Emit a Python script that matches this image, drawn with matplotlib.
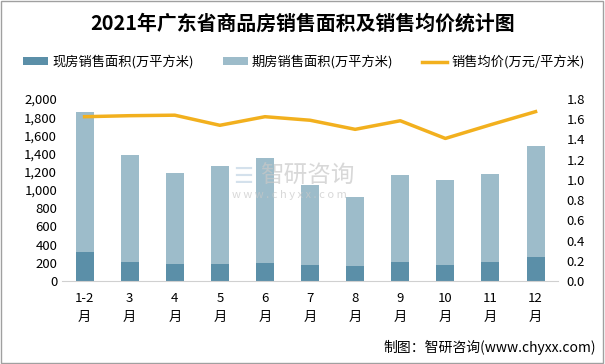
import matplotlib.pyplot as plt
import numpy as np
from matplotlib.patches import Rectangle

plt.rcParams['font.family'] = ['Noto Sans CJK SC', 'DejaVu Sans']

months = ["1-2\n月", "3\n月", "4\n月", "5\n月", "6\n月", "7\n月", "8\n月", "9\n月", "10\n月", "11\n月", "12\n月"]
spot_area = [317, 210, 188, 188, 199, 177, 166, 210, 177, 210, 265]
total_area = [1853, 1389, 1190, 1267, 1356, 1050, 928, 1168, 1105, 1179, 1488]
futures_area = [t - s for t, s in zip(total_area, spot_area)]
avg_price = [1.625, 1.635, 1.64, 1.54, 1.625, 1.59, 1.50, 1.585, 1.41, 1.545, 1.675]

c_spot = "#5b8fa8"
c_fut = "#9dbcca"
c_line = "#f2b01e"

fig = plt.figure(figsize=(6.05, 3.64), dpi=100)
ax = fig.add_axes([0.1025, 0.228, 0.82, 0.50])
x = np.arange(len(months))

b1 = ax.bar(x, spot_area, width=0.4, color=c_spot, label="现房销售面积(万平方米)")
b2 = ax.bar(x, futures_area, width=0.4, bottom=spot_area, color=c_fut, label="期房销售面积(万平方米)")
ax.set_ylim(0, 2000)
ax.set_yticks(np.arange(0, 2001, 200))
ax.set_yticklabels([f"{v:,}" for v in range(0, 2001, 200)])
ax.set_xlim(-0.5, len(months) - 0.5)
ax.set_xticks(x)
ax.set_xticklabels(months, linespacing=1.6)
for s in ["top", "left", "right"]:
    ax.spines[s].set_visible(False)
ax.spines["bottom"].set_color("#d0d0d0")
ax.tick_params(axis="both", length=0, labelsize=9.5)
ax.tick_params(axis="x", pad=8)

ax2 = ax.twinx()
l1, = ax2.plot(x, avg_price, color=c_line, lw=2.5, label="销售均价(万元/平方米)")
ax2.set_ylim(0, 1.8)
ax2.set_yticks(np.arange(0, 1.81, 0.2))
ax2.set_yticklabels([f"{v:.1f}" for v in np.arange(0, 1.81, 0.2)])
for s in ["top", "left", "right", "bottom"]:
    ax2.spines[s].set_visible(False)
ax2.tick_params(axis="y", length=0, labelsize=9.5, pad=6)

# watermark
fig.text(0.385, 0.515, "\u2630", fontsize=16, color="#b8cde0", alpha=0.6, ha="left", va="center")
fig.text(0.43, 0.515, "智研咨询", fontsize=17, color="#c8c8c8", alpha=0.7, ha="left", va="center")
fig.text(0.383, 0.465, "w w w . c h y x x . c o m", fontsize=8, color="#c8c8c8", alpha=0.7, ha="left", va="center")

fig.suptitle("2021年广东省商品房销售面积及销售均价统计图", y=0.965, fontsize=14.3, fontweight="bold")
fig.legend(handles=[b1, b2, l1], loc="center", bbox_to_anchor=(0.502, 0.83), ncol=3,
           frameon=False, fontsize=9.5, handlelength=1.9, handleheight=0.5,
           handletextpad=0.3, columnspacing=2.2)

fig.text(0.985, 0.045, "制图：智研咨询(www.chyxx.com)", ha="right", va="center", fontsize=10)

fig.patches.append(Rectangle((0.002, 0.003), 0.995, 0.993, transform=fig.transFigure,
                             fill=False, edgecolor="#a0a0a0", lw=1))

fig.savefig("out.png", dpi=100)
